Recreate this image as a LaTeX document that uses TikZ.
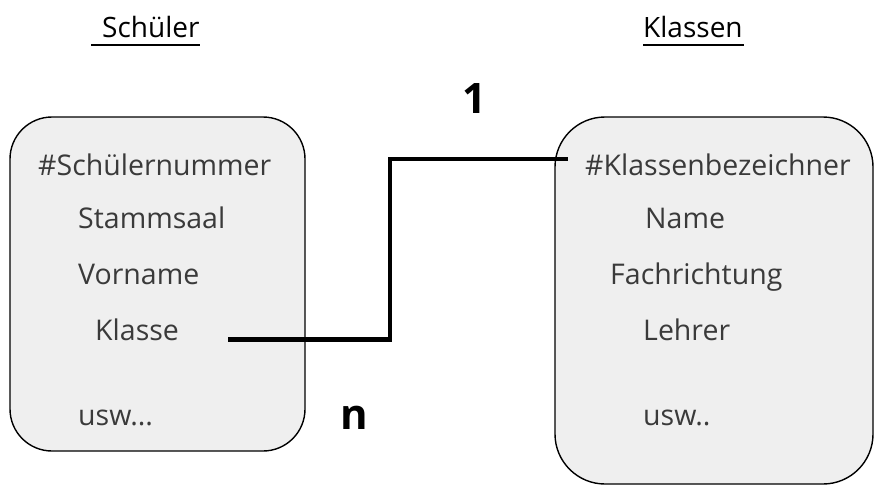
\documentclass[tikz,border=0pt]{standalone}
\usepackage{fontspec}
\setmainfont{Open Sans}
\definecolor{boxfill}{HTML}{EFEFEF}
\definecolor{txt}{HTML}{3A3A3A}
\tikzset{
  entity/.style={draw=black, line width=1.4pt, fill=boxfill},
  attr/.style={anchor=base west, inner sep=0pt, text=txt,
    font=\fontsize{28.5}{34}\selectfont},
  title/.style={anchor=base west, inner sep=0pt, text=black,
    font=\fontsize{28}{34}\selectfont},
  card/.style={inner sep=0pt, text=black,
    font=\fontsize{42}{48}\bfseries\selectfont},
  rel/.style={line width=4.5pt, line join=miter},
  uline/.style={line width=2pt}
}
\begin{document}
\begin{tikzpicture}[x=1pt, y=-1pt]
\useasboundingbox (0,0) rectangle (874,488);

% entity boxes
\draw[entity, rounded corners=42pt] (10,117) rectangle (305,451) coordinate (schuelerbox);
\draw[entity, rounded corners=50pt] (555,117) rectangle (873,484) coordinate (klassenbox);

% table titles
\node[title] (tschueler) at (102,37) {Schüler};
\node[title] (tklassen) at (643,37) {Klassen};
\draw[uline] (91,45) -- (200,45);
\draw[uline] (643,45) -- (744,45);

% attributes of Schüler
\node[attr] (snr) at (38,175) {\#Schülernummer};
\node[attr] (ssaal) at (78,228) {Stammsaal};
\node[attr] (svorname) at (78,284) {Vorname};
\node[attr] (sklasse) at (95,340) {Klasse};
\node[attr] (susw) at (78,425) {usw...};

% attributes of Klassen
\node[attr] (kbez) at (585,175) {\#Klassenbezeichner};
\node[attr] (kname) at (645,228) {Name};
\node[attr] (kfach) at (610,284) {Fachrichtung};
\node[attr] (klehrer) at (643,340) {Lehrer};
\node[attr] (kusw) at (643,425) {usw..};

% cardinalities
\node[card] (cone) at (474,99) {1};
\node[card] (cn) at (354,418) {n};

% relationship Klasse -> #Klassenbezeichner
\coordinate (relstart) at (228,339.5);
\coordinate (relend) at (568,159);
\coordinate (relmid) at (390,0);
\draw[rel] (relstart) -| (relmid |- relend) -- (relend);
\end{tikzpicture}
\end{document}
